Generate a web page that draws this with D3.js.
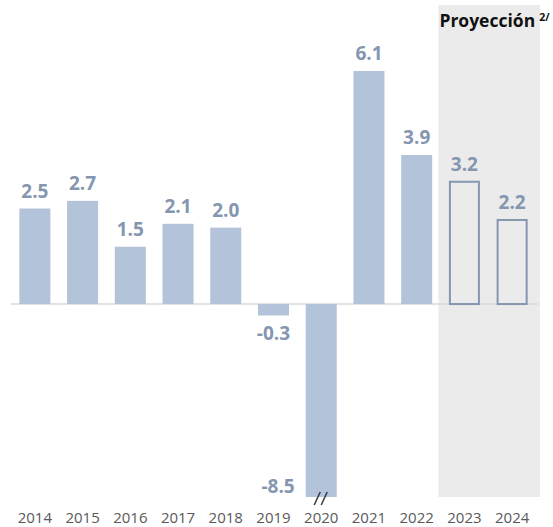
<!DOCTYPE html>
<html>
<head>
<meta charset="utf-8">
<script src="https://cdn.jsdelivr.net/npm/d3@7"></script>
<style>
  body { margin: 0; background: #fff; }
  text { font-family: "Open Sans", "Noto Sans", sans-serif; }
</style>
</head>
<body>
<div id="chart"></div>
<script>
// years and growth values (% change)
var years = ["2014", "2015", "2016", "2017", "2018", "2019", "2020", "2021", "2022", "2023", "2024"];
var values = [2.5, 2.7, 1.5, 2.1, 2.0, -0.3, -8.5, 6.1, 3.9, 3.2, 2.2];
var projected = ["2023", "2024"];
var brokenYear = "2020";
var projLabel = "Proyección";
var projNote = "2/";

var width = 553, height = 527;

var data = years.map(function(y, i) {
  return { year: y, value: values[i], proj: projected.indexOf(y) >= 0 };
});

var svg = d3.select("#chart").append("svg")
  .attr("width", width)
  .attr("height", height);

var x = d3.scaleBand()
  .domain(years)
  .range([11, 536])
  .paddingInner(0.35)
  .paddingOuter(0.175);

// axis is cut at the bottom (-8.5 bar is broken), so clamp
var y = d3.scaleLinear()
  .domain([-5.05, 7.8])
  .range([497, 6])
  .clamp(true);

var step = x.step();
var fmt = function(v) { return d3.format(".1f")(v).replace("\u2212", "-"); };

// shaded projection area
var sx0 = x(projected[0]) - step * 0.22;
var sx1 = x(projected[1]) + x.bandwidth() + step * 0.26;
svg.append("rect")
  .attr("x", sx0)
  .attr("y", 5)
  .attr("width", sx1 - sx0)
  .attr("height", y(-5.05) - 5)
  .style("fill", "#ebebeb");

svg.append("text")
  .attr("x", sx0 + 1)
  .attr("y", 27)
  .style("font-size", "17.5px")
  .style("font-weight", "bold")
  .style("fill", "#111")
  .text(projLabel)
  .append("tspan")
  .attr("dx", 4)
  .attr("dy", -6)
  .style("font-size", "10.5px")
  .text(projNote);

// zero line
svg.append("line")
  .attr("x1", 11)
  .attr("x2", sx1 - 2)
  .attr("y1", y(0))
  .attr("y2", y(0))
  .style("stroke", "#d9d9d9")
  .style("stroke-width", 1.5);

// bars
svg.selectAll(".bar")
  .data(data)
  .enter().append("rect")
  .attr("class", "bar")
  .attr("x", function(d) { return d.proj ? x(d.year) + 1 : x(d.year); })
  .attr("y", function(d) { return y(Math.max(0, d.value)); })
  .attr("width", function(d) { return d.proj ? x.bandwidth() - 2 : x.bandwidth(); })
  .attr("height", function(d) { return Math.abs(y(d.value) - y(0)); })
  .style("fill", function(d) { return d.proj ? "none" : "#b3c3d9"; })
  .style("stroke", function(d) { return d.proj ? "#8497b0" : "none"; })
  .style("stroke-width", 2);

// value labels
svg.selectAll(".lbl")
  .data(data)
  .enter().append("text")
  .attr("class", "lbl")
  .attr("x", function(d) {
    if (d.year === brokenYear) return x(d.year) - 11;
    return x(d.year) + x.bandwidth() / 2;
  })
  .attr("y", function(d) {
    if (d.year === brokenYear) return y(d.value) - 4;
    return d.value >= 0 ? y(d.value) - 11 : y(d.value) + 24;
  })
  .attr("text-anchor", function(d) { return d.year === brokenYear ? "end" : "middle"; })
  .style("font-size", "19px")
  .style("font-weight", "bold")
  .style("fill", "#8496b0")
  .text(function(d) { return fmt(d.value); });

// break mark under the 2020 bar
var bx = x(brokenYear) + x.bandwidth() / 2;
var by = y(-8.5);
[-4, 3].forEach(function(off) {
  svg.append("line")
    .attr("x1", bx + off - 3)
    .attr("y1", by + 8)
    .attr("x2", bx + off + 3)
    .attr("y2", by - 5)
    .style("stroke", "#404040")
    .style("stroke-width", 1.6);
});

// year labels
svg.append("g")
  .attr("transform", "translate(0,523)")
  .call(d3.axisBottom(x).tickSize(0).tickPadding(0))
  .call(function(g) { g.select(".domain").remove(); })
  .selectAll("text")
  .attr("dy", 0)
  .style("font-size", "15px")
  .style("font-family", "'Open Sans', sans-serif")
  .style("fill", "#595959");
</script>
</body>
</html>
